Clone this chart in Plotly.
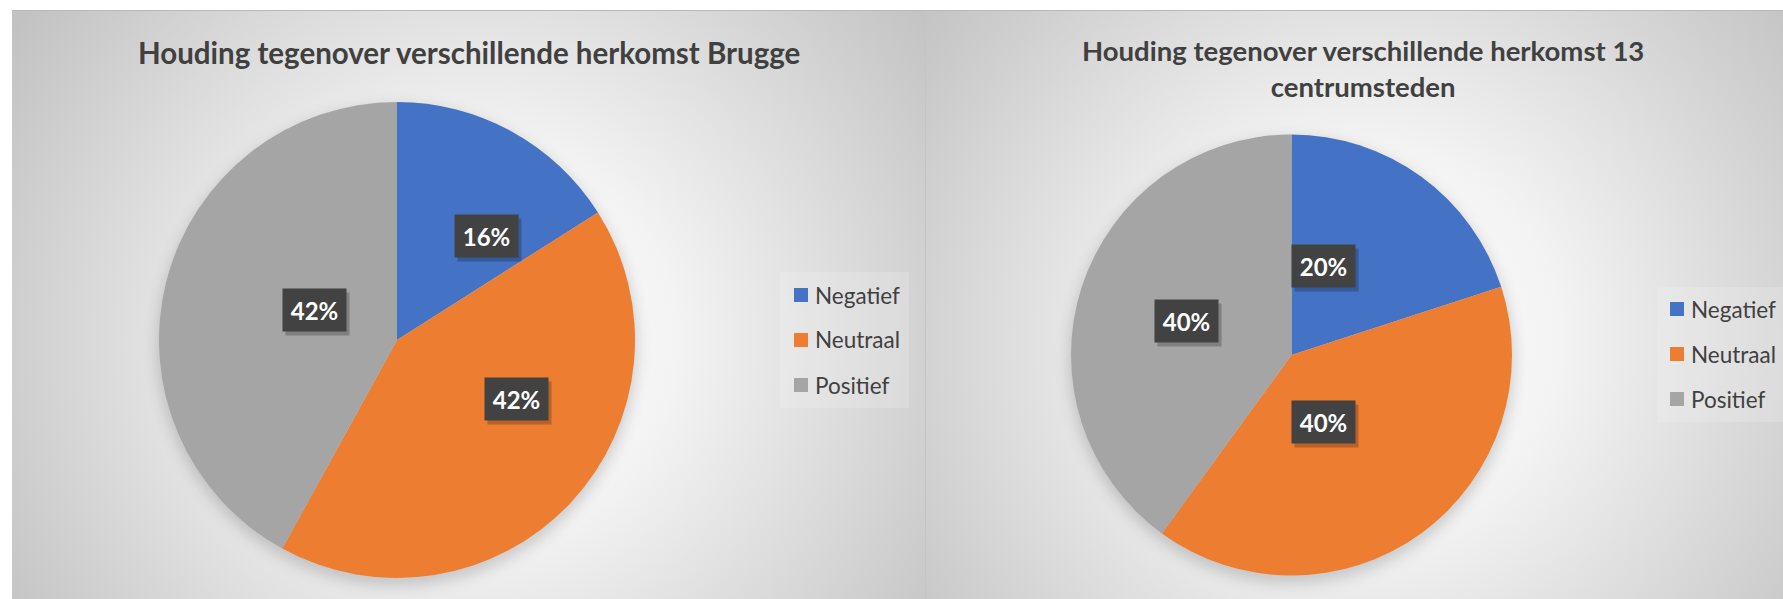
import base64
import math
import plotly.graph_objects as go

# ---- data -------------------------------------------------------------
categories = ["Negatief", "Neutraal", "Positief"]
brugge_pct = [16, 42, 42]
centrum_pct = [20, 40, 40]
titles = [
    "Houding tegenover verschillende herkomst Brugge",
    "Houding tegenover verschillende herkomst 13<br>centrumsteden",
]
colors = ["#4472C4", "#ED7D31", "#A5A5A5"]

# ---- canvas / layout geometry (pixels) --------------------------------
W, H = 1783, 599
panels = [
    dict(x0=12, x1=925, gcx=480, gcy=340),
    dict(x0=925, x1=1783, gcx=1363, gcy=340),
]
pie_geom = [
    dict(cx=397, cy=340, r=238),
    dict(cx=1291.5, cy=355, r=220.5),
]
title_pos = [(469, 53), (1363, 69)]
title_size = [29.5, 27.5]
legend_geom = [
    dict(box=(780, 272, 909, 408), mx=794, y0=295, dy=45),
    dict(box=(1657, 287, 1790, 422), mx=1670, y0=309, dy=45),
]
MARK = 14
FONT = "Lato, 'Open Sans', sans-serif"
TEXT_COL = "#404040"


def fx(x):
    return x / W


def fy(y):
    return 1 - y / H


# ---- background: radial gradient panels + soft pie shadows -------------
defs = []
body = [f'<rect x="0" y="0" width="{W}" height="{H}" fill="#ffffff"/>']
for i, p in enumerate(panels):
    defs.append(
        f'<radialGradient id="g{i}" gradientUnits="userSpaceOnUse" '
        f'cx="{p["gcx"]}" cy="{p["gcy"]}" r="560">'
        '<stop offset="0" stop-color="#ffffff"/>'
        '<stop offset="0.35" stop-color="#f3f3f3"/>'
        '<stop offset="1" stop-color="#c2c2c2"/></radialGradient>'
    )
    body.append(
        f'<rect x="{p["x0"]}" y="10" width="{p["x1"] - p["x0"]}" '
        f'height="{H - 10}" fill="url(#g{i})"/>'
    )
defs.append(
    '<filter id="soft" x="-30%" y="-30%" width="160%" height="160%">'
    '<feGaussianBlur stdDeviation="7"/></filter>'
)
for g in pie_geom:
    body.append(
        f'<circle cx="{g["cx"]}" cy="{g["cy"] + 6}" r="{g["r"] + 2}" '
        'fill="#000" fill-opacity="0.16" filter="url(#soft)"/>'
    )
body.append(f'<line x1="12" y1="10.5" x2="{W}" y2="10.5" stroke="#b8b8b8" stroke-width="1"/>')
body.append(f'<line x1="925.5" y1="10" x2="925.5" y2="{H}" stroke="#c4c4c4" stroke-width="1"/>')
svg = (
    f'<svg xmlns="http://www.w3.org/2000/svg" width="{W}" height="{H}" '
    f'viewBox="0 0 {W} {H}" preserveAspectRatio="none"><defs>'
    + "".join(defs) + "</defs>" + "".join(body) + "</svg>"
)
bg_src = "data:image/svg+xml;base64," + base64.b64encode(svg.encode()).decode()

fig = go.Figure()

# ---- pies --------------------------------------------------------------
annotations = []
for values, g in zip([brugge_pct, centrum_pct], pie_geom):
    fig.add_trace(
        go.Pie(
            labels=categories,
            values=values,
            sort=False,
            direction="clockwise",
            rotation=0,
            marker=dict(colors=colors, line=dict(width=0)),
            textinfo="none",
            hoverinfo="label+percent",
            showlegend=False,
            domain=dict(
                x=[fx(g["cx"] - g["r"]), fx(g["cx"] + g["r"])],
                y=[fy(g["cy"] + g["r"]), fy(g["cy"] - g["r"])],
            ),
        )
    )
    # data labels: dark boxes at half radius on each slice's mid-angle
    total = sum(values)
    cum = 0
    for v in values:
        ang = math.radians((cum + v / 2) / total * 360)
        cum += v
        lx = g["cx"] + 0.5 * g["r"] * math.sin(ang)
        ly = g["cy"] - 0.5 * g["r"] * math.cos(ang)
        pct = round(v / total * 100)
        # drop shadow
        annotations.append(dict(
            x=fx(lx), y=fy(ly), xref="paper", yref="paper", showarrow=False,
            text=" ", width=55, height=34, borderpad=4, xshift=3, yshift=-4,
            bgcolor="rgba(0,0,0,0.22)", font=dict(size=22),
        ))
        annotations.append(dict(
            x=fx(lx), y=fy(ly), xref="paper", yref="paper", showarrow=False,
            text=f"<b>{pct}%</b>", width=55, height=34, borderpad=4,
            bgcolor="#424242",
            font=dict(family=FONT, size=24, color="#ffffff"),
        ))

# ---- titles ------------------------------------------------------------
for t, (tx, ty), ts in zip(titles, title_pos, title_size):
    annotations.append(dict(
        x=fx(tx), y=fy(ty), xref="paper", yref="paper", showarrow=False,
        text=f"<b>{t}</b>", xanchor="center", yanchor="middle",
        font=dict(family=FONT, size=ts, color=TEXT_COL),
    ))

# ---- legends -----------------------------------------------------------
shapes = []
for lg in legend_geom:
    bx0, by0, bx1, by1 = lg["box"]
    shapes.append(dict(
        type="rect", xref="paper", yref="paper", layer="below",
        x0=fx(bx0), x1=fx(bx1), y0=fy(by1), y1=fy(by0),
        fillcolor="rgba(245,245,245,0.22)", line=dict(width=0),
    ))
    for k, (name, col) in enumerate(zip(categories, colors)):
        yc = lg["y0"] + k * lg["dy"]
        shapes.append(dict(
            type="rect", xref="paper", yref="paper",
            x0=fx(lg["mx"]), x1=fx(lg["mx"] + MARK),
            y0=fy(yc + MARK / 2), y1=fy(yc - MARK / 2),
            fillcolor=col, line=dict(width=0),
        ))
        annotations.append(dict(
            x=fx(lg["mx"] + MARK + 5), y=fy(yc), xref="paper", yref="paper",
            showarrow=False, text=name, xanchor="left", yanchor="middle",
            font=dict(family=FONT, size=22.5, color=TEXT_COL),
        ))

fig.update_layout(
    width=W,
    height=H,
    margin=dict(l=0, r=0, t=0, b=0),
    paper_bgcolor="#ffffff",
    plot_bgcolor="rgba(0,0,0,0)",
    images=[dict(
        source=bg_src, xref="paper", yref="paper", x=0, y=1,
        sizex=1, sizey=1, xanchor="left", yanchor="top",
        sizing="stretch", layer="below",
    )],
    annotations=annotations,
    shapes=shapes,
)

fig.write_html("out.html")
